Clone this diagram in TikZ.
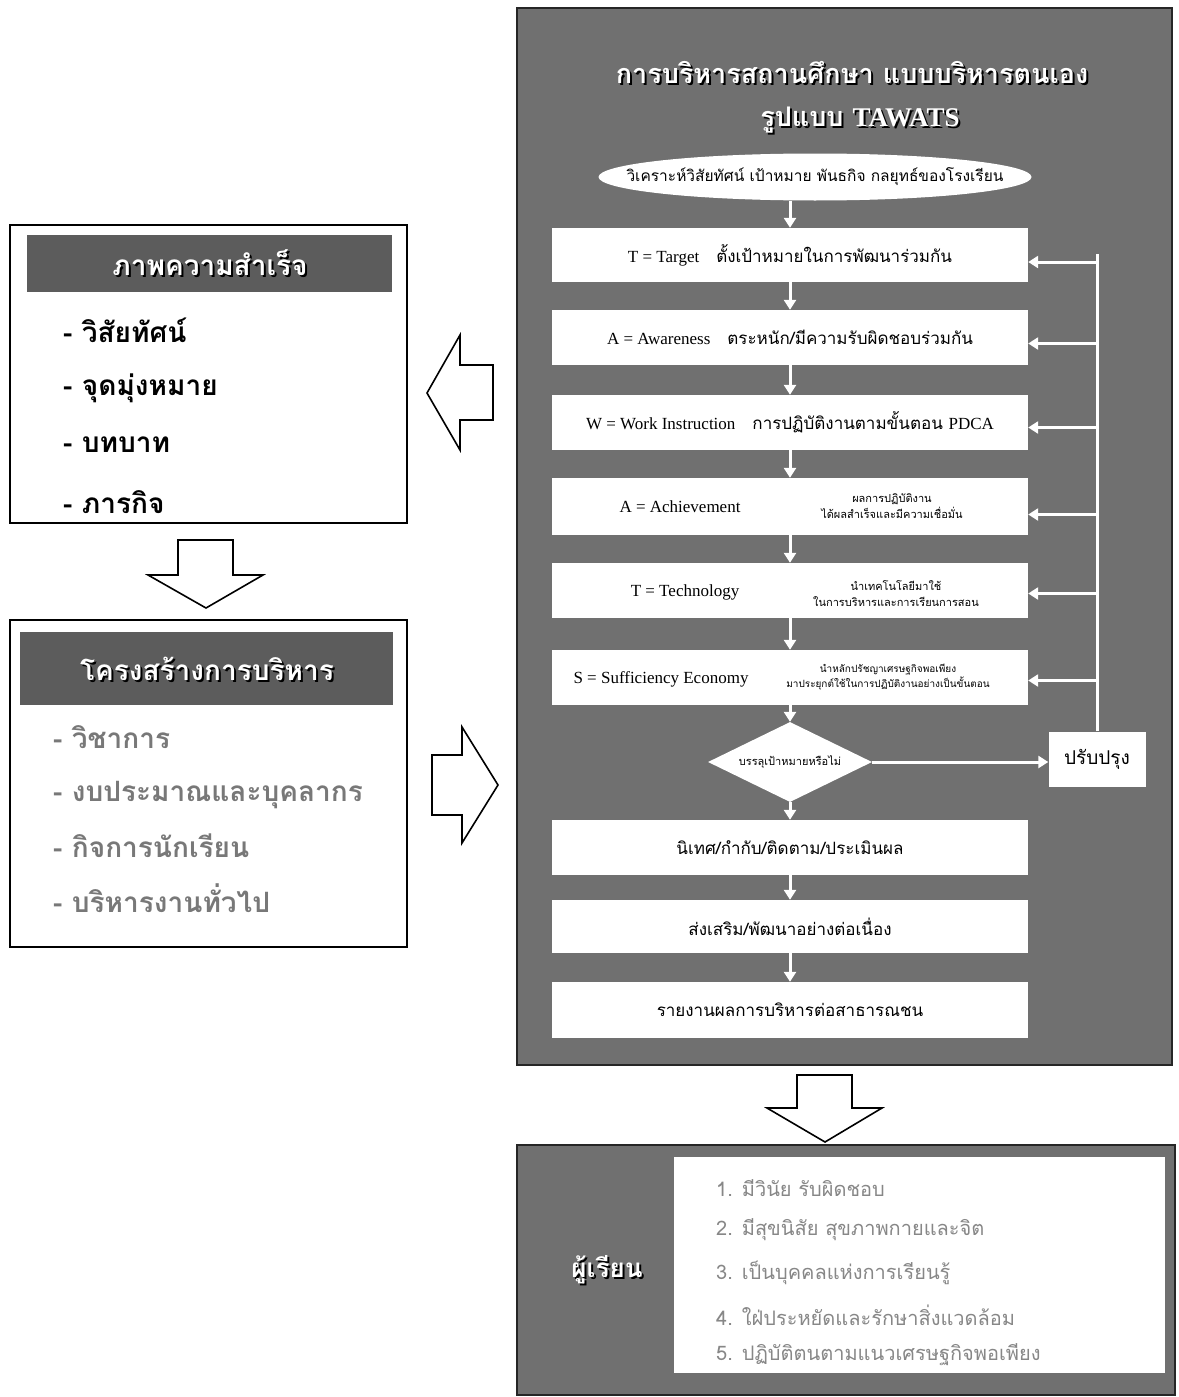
\documentclass[tikz,border=0pt]{standalone}
\usepackage{fontspec}
\setmainfont{Liberation Serif}
\newfontfamily\thai[Script=Thai]{Loma}
\usetikzlibrary{arrows.meta,shapes.geometric,calc}
\newcommand\fsz[2]{\fontsize{#1}{#2}\selectfont}
\definecolor{pgray}{RGB}{112,112,112}
\definecolor{hgray}{RGB}{92,92,92}
\definecolor{itemgray}{RGB}{120,120,120}
\definecolor{lightitem}{RGB}{135,135,135}
\begin{document}
\begin{tikzpicture}[x=1pt,y=-1pt,
  panel/.style={fill=pgray,draw=black!85,line width=2.5pt},
  wbox/.style={fill=white,minimum width=476pt,minimum height=55pt,inner sep=0pt,font=\thai\fsz{17}{20}},
  flow/.style={draw=white,line width=3pt,-{Triangle[width=12pt,length=10pt]}},
  wline/.style={draw=white,line width=3pt},
  hollow/.style={fill=white,draw=black,line width=1.6pt,line join=miter},
  leftbox/.style={fill=white,draw=black,line width=1.6pt},
  header/.style={fill=hgray,draw=none},
  htext/.style={text=white,font=\thai\bfseries\fsz{28}{32}},
  hshadow/.style={text=black,font=\thai\bfseries\fsz{28}{32}},
  item/.style={anchor=west,inner sep=0pt,font=\thai\bfseries\fsz{28}{32}},
  small/.style={align=center,inner sep=0pt,font=\thai\fsz{11}{16}},
  lat/.style={inner sep=0pt,font=\rmfamily\fsz{17}{20}}]
\useasboundingbox (0,0) rectangle (1178,1397);

% ---------- right main panel ----------
\path[panel] (517,8) rectangle (1172,1065);
\node[text=black,font=\thai\bfseries\fsz{27}{30}] (titleAs) at (854,74) {การบริหารสถานศึกษา แบบบริหารตนเอง};
\node[text=white,font=\thai\bfseries\fsz{27}{30}] (titleA) at (852,72) {การบริหารสถานศึกษา แบบบริหารตนเอง};
\node[text=black,font=\thai\bfseries\fsz{27}{30}] (titleBs) at (862,122) {รูปแบบ {\rmfamily TAWATS}};
\node[text=white,font=\thai\bfseries\fsz{27}{30}] (titleB) at (860,120) {รูปแบบ {\rmfamily TAWATS}};

\node[ellipse,fill=white,minimum width=433pt,minimum height=47pt,inner sep=0pt] (ell) at (815,177) {};
\node[font=\thai\fsz{15.5}{19},inner sep=0pt] (elltxt) at (ell.center) {วิเคราะห์วิสัยทัศน์ เป้าหมาย พันธกิจ กลยุทธ์ของโรงเรียน};

\node[wbox,minimum height=54pt] (T) at (790,255) {{\rmfamily T = Target}\quad ตั้งเป้าหมายในการพัฒนาร่วมกัน};
\node[wbox] (A) at (790,337.5) {{\rmfamily A = Awareness}\quad ตระหนัก/มีความรับผิดชอบร่วมกัน};
\node[wbox] (W) at (790,422.5) {{\rmfamily W = Work Instruction}\quad การปฏิบัติงานตามขั้นตอน {\rmfamily PDCA}};
\node[wbox,minimum height=57pt] (A2) at (790,506.5) {};
\node[lat] (A2l) at (680,506.5) {A = Achievement};
\node[small] (A2r) at (892,506.5) {ผลการปฏิบัติงาน\\ได้ผลสำเร็จและมีความเชื่อมั่น};
\node[wbox] (T2) at (790,590.5) {};
\node[lat] (T2l) at (685,592) {T = Technology};
\node[small] (T2r) at (896,594) {นำเทคโนโลยีมาใช้\\ในการบริหารและการเรียนการสอน};
\node[wbox] (S) at (790,677.5) {};
\node[lat] (Sl) at (661,679) {S = Sufficiency Economy};
\node[small,font=\thai\fsz{10}{15}] (Sr) at (888,677.5) {นำหลักปรัชญาเศรษฐกิจพอเพียง\\มาประยุกต์ใช้ในการปฏิบัติงานอย่างเป็นขั้นตอน};

\node[diamond,fill=white,minimum width=164pt,minimum height=80pt,inner sep=0pt] (dia) at (790,762) {};
\node[font=\thai\fsz{11}{14},inner sep=0pt] (diatxt) at (dia.center) {บรรลุเป้าหมายหรือไม่};
\node[fill=white,minimum width=97pt,minimum height=55pt,inner sep=0pt,font=\thai\fsz{19}{22}] (imp) at (1097,759) {ปรับปรุง};

\node[wbox] (nit) at (790,847.5) {นิเทศ/กำกับ/ติดตาม/ประเมินผล};
\node[wbox,minimum height=53pt] (ss) at (790,926.5) {ส่งเสริม/พัฒนาอย่างต่อเนื่อง};
\node[wbox,minimum height=56pt] (rep) at (790,1010) {รายงานผลการบริหารต่อสาธารณชน};

% main flow
\draw[flow] (ell.south -| T.north) -- (T.north);
\draw[flow] (T.south) -- (A.north);
\draw[flow] (A.south) -- (W.north);
\draw[flow] (W.south) -- (A2.north);
\draw[flow] (A2.south) -- (T2.north);
\draw[flow] (T2.south) -- (S.north);
\draw[flow] (S.south) -- (dia.north);
\draw[flow] (dia.south) -- (nit.north);
\draw[flow] (nit.south) -- (ss.north);
\draw[flow] (ss.south) -- (rep.north);
\draw[flow] (dia.east) -- (dia.east -| imp.west);
% feedback
\draw[wline] (imp.north) -- ($(imp.north |- T.east)+(0,-1.5)$);
\foreach \b/\dy in {T/7,A/6,W/5,A2/8,T2/3,S/3}{
  \draw[flow] ($(imp.north |- \b.east)+(0,\dy)$) -- ($(\b.east)+(0,\dy)$);
}

% ---------- left top box ----------
\path[leftbox] (10,225) rectangle (407,523);
\path[header] (27,235) rectangle (392,292);
\node[hshadow] (h1s) at (212,265) {ภาพความสำเร็จ};
\node[htext] (h1) at (210,263) {ภาพความสำเร็จ};
\node[item] (i11) at (63,330) {- วิสัยทัศน์};
\node[item] (i12) at (63,388) {- จุดมุ่งหมาย};
\node[item] (i13) at (63,445) {- บทบาท};
\node[item] (i14) at (63,502) {- ภารกิจ};

% ---------- left bottom box ----------
\path[leftbox] (10,620) rectangle (407,947);
\path[header] (20,632) rectangle (393,705);
\node[hshadow] (h2s) at (209,671) {โครงสร้างการบริหาร};
\node[htext] (h2) at (207,669) {โครงสร้างการบริหาร};
\node[item,text=itemgray] (i21) at (53,737) {- วิชาการ};
\node[item,text=itemgray] (i22) at (53,795) {- งบประมาณและบุคลากร};
\node[item,text=itemgray] (i23) at (53,846) {- กิจการนักเรียน};
\node[item,text=itemgray] (i24) at (53,898) {- บริหารงานทั่วไป};

% ---------- bottom box ----------
\path[panel] (517,1145) rectangle (1175,1395);
\path[fill=white] (674,1157) rectangle (1165,1373);
\node[text=black,font=\thai\bfseries\fsz{26}{30}] (lrns) at (609,1272) {ผู้เรียน};
\node[text=white,font=\thai\bfseries\fsz{26}{30}] (lrn) at (607,1270) {ผู้เรียน};
\node[item,text=lightitem,font=\thai\fsz{20}{24}] (b1) at (716,1188) {1. มีวินัย รับผิดชอบ};
\node[item,text=lightitem,font=\thai\fsz{20}{24}] (b2) at (716,1230) {2. มีสุขนิสัย สุขภาพกายและจิต};
\node[item,text=lightitem,font=\thai\fsz{20}{24}] (b3) at (716,1273) {3. เป็นบุคคลแห่งการเรียนรู้};
\node[item,text=lightitem,font=\thai\fsz{20}{24}] (b4) at (716,1315) {4. ใฝ่ประหยัดและรักษาสิ่งแวดล้อม};
\node[item,text=lightitem,font=\thai\fsz{20}{24}] (b5) at (716,1355) {5. ปฏิบัติตนตามแนวเศรษฐกิจพอเพียง};

% ---------- hollow block arrows ----------
\path[hollow] (427,393) -- (460,335) -- (460,365) -- (493,365) -- (493,420) -- (460,420) -- (460,450) -- cycle;
\path[hollow] (178,540) -- (233,540) -- (233,575) -- (263,575) -- (206,608) -- (148,575) -- (178,575) -- cycle;
\path[hollow] (432,755) -- (462,755) -- (462,727) -- (498,785) -- (462,843) -- (462,815) -- (432,815) -- cycle;
\path[hollow] (797,1075) -- (852,1075) -- (852,1108) -- (882,1108) -- (825,1142) -- (767,1108) -- (797,1108) -- cycle;
\end{tikzpicture}
\end{document}
